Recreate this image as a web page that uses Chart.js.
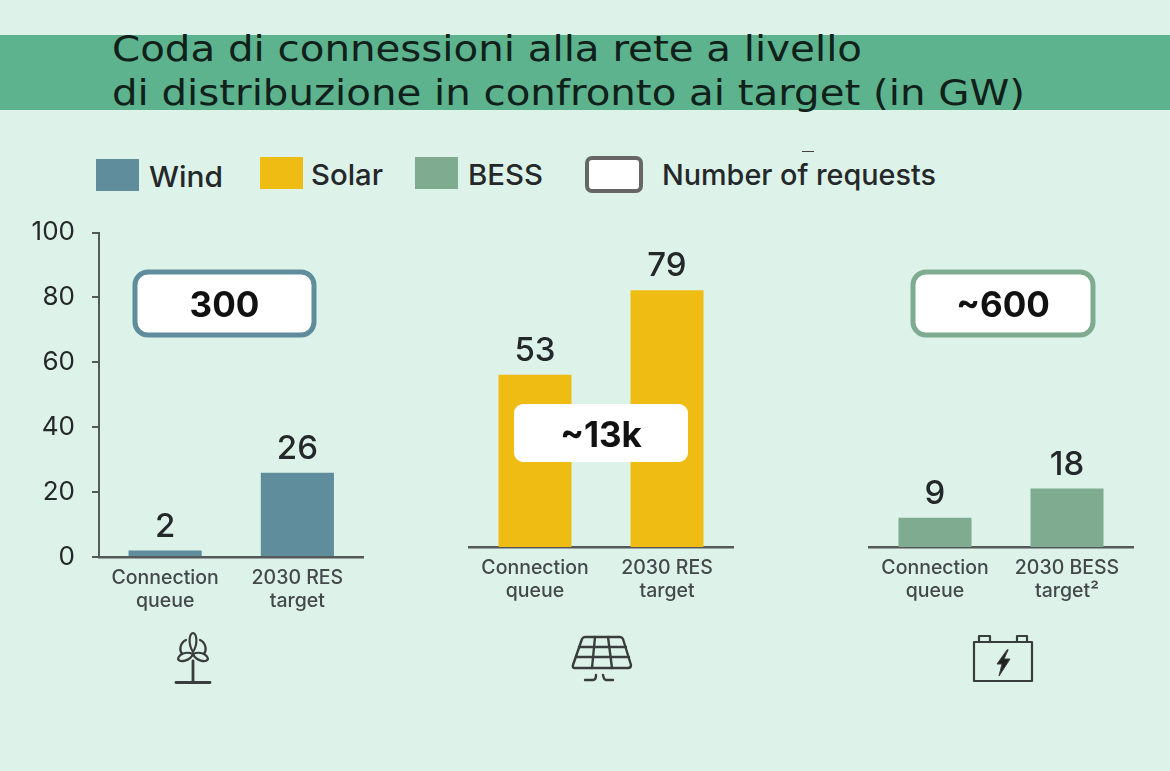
<!DOCTYPE html>
<html lang="it">
<head>
<meta charset="utf-8">
<title>Coda di connessioni alla rete</title>
<script src="https://cdn.jsdelivr.net/npm/chart.js@4/dist/chart.umd.js"></script>
<style>
  html, body { margin: 0; padding: 0; background: #ddf3e9; }
  #page { position: relative; width: 1170px; height: 771px; overflow: hidden; background: #ddf3e9; font-family: Inter, sans-serif; }
  #band { position: absolute; left: 0; top: 35px; width: 1170px; height: 75px; background: #5db38d; }
  .title { position: absolute; left: 112px; font: 36px "DejaVu Sans", sans-serif; color: #10201a; white-space: nowrap; transform-origin: 0 0; line-height: 40px; }
  canvas { position: absolute; }
  .swatch { position: absolute; width: 43px; height: 32px; }
  .legend-text { position: absolute; font-size: 29px; font-weight: 500; line-height: 36px; color: #25282a; white-space: nowrap; transform-origin: 0 50%; }
  #requests-key { position: absolute; left: 585px; top: 156px; width: 50px; height: 29px; border: 4px solid #666; border-radius: 7px; background: #fff; }
  #speck { position: absolute; left: 802px; top: 151px; width: 12px; height: 1px; background: #444; }
  svg { position: absolute; fill: none; stroke: #3a3d3d; stroke-linecap: round; stroke-linejoin: round; }
</style>
</head>
<body>
<div id="page">
  <div id="band"></div>
  <div class="title" id="t1" style="top:29px">Coda di connessioni alla rete a livello</div>
  <div class="title" id="t2" style="top:73px">di distribuzione in confronto ai target (in GW)</div>

  <div class="swatch" style="left:96px;top:159px;background:#5f8d9c"></div>
  <div class="legend-text" data-w="74" style="left:149px;top:159px">Wind</div>
  <div class="swatch" style="left:260px;top:157px;background:#eebc12"></div>
  <div class="legend-text" data-w="72" style="left:311px;top:157px">Solar</div>
  <div class="swatch" style="left:415px;top:157px;background:#7fab91"></div>
  <div class="legend-text" data-w="75" style="left:468px;top:157px">BESS</div>
  <div id="requests-key"></div>
  <div id="speck"></div>
  <div class="legend-text" data-w="274" style="left:662px;top:157px">Number of requests</div>

  <canvas id="wind" width="380" height="420" style="left:0;top:200px"></canvas>
  <canvas id="solar" width="290" height="420" style="left:460px;top:190px"></canvas>
  <canvas id="bess" width="290" height="420" style="left:860px;top:190px"></canvas>

  <!-- wind turbine -->
  <svg style="left:170px;top:628px" width="46" height="60" viewBox="0 0 46 60" stroke-width="2.200">
    <path d="M6 54.500H40" stroke-width="2.800"/>
    <path d="M23 33V54" stroke-width="2.800"/>
    <path d="M23 24C18 16 19 6 23 5C27 6 28 16 23 24Z"/>
    <path d="M23 26C16 23 9 26 8 31C10 35 20 33 23 26Z"/>
    <path d="M23 26C30 23 37 26 38 31C36 35 26 33 23 26Z"/>
    <path d="M16 12C10 15 9 22 12 26M30 12C36 15 37 22 34 26"/>
  </svg>
  <!-- solar panel -->
  <svg style="left:568px;top:632px" width="68" height="52" viewBox="0 0 68 52" stroke-width="2.400">
    <path d="M17 5H52Q54 5 55 7L63 33Q63 36 60 36H7Q4 36 5 33L14 7Q15 5 17 5Z"/>
    <path d="M27 5L24 36M40 5L44 36"/>
    <path d="M11 15H58M8 25H61"/>
    <path d="M17 48H25Q28 48 28 43M45 48H38Q36 48 35 43"/>
  </svg>
  <!-- battery -->
  <svg style="left:970px;top:632px" width="66" height="52" viewBox="0 0 66 52" stroke-width="2.200">
    <rect x="4" y="10" width="58" height="39"/>
    <path d="M9 10V4H20V10M47 10V4H57V10"/>
    <path d="M37 18L27 32H32L29 44L40 27H34L38 18Z" fill="#222" stroke-width="1"/>
  </svg>
</div>

<script>
// Values in GW and request counts for the three technologies
const axisTicks = [0, 20, 40, 60, 80, 100];
const queueLabel = ["Connection", "queue"];
const resLabel = ["2030 RES", "target"];
const bessLabel = ["2030 BESS", "target\u00B2"];
const windValues = [2, 26];
const solarValues = [53, 79];
const bessValues = [9, 18];
const windRequests = "300";
const solarRequests = "~13k";
const bessRequests = "~600";

const WIND = "#5f8d9c", SOLAR = "#eebc12", BESS = "#7fab91", AXIS = "#55595a", INK = "#25282a";
const FONT = "Inter, sans-serif";

// Fits the title lines and legend entries to their printed widths
[["t1", 750], ["t2", 913]].forEach(([id, w]) => {
  const el = document.getElementById(id);
  el.style.transform = "scaleX(" + (w / el.getBoundingClientRect().width) + ")";
});
document.querySelectorAll(".legend-text").forEach(el => {
  el.style.transform = "scaleX(" + (Number(el.dataset.w) / el.getBoundingClientRect().width) + ")";
});

function roundedBox(ctx, x, y, w, h, r, fill, stroke, lw) {
  ctx.beginPath();
  ctx.roundRect(x, y, w, h, r);
  ctx.fillStyle = fill;
  ctx.fill();
  if (stroke) { ctx.lineWidth = lw; ctx.strokeStyle = stroke; ctx.stroke(); }
}

// Value labels above the bars and the request-count callout
const annotate = {
  id: "annotate",
  afterDatasetsDraw(chart, args, opts) {
    const ctx = chart.ctx, meta = chart.getDatasetMeta(0), values = chart.data.datasets[0].data;
    ctx.save();
    ctx.textAlign = "center";
    ctx.textBaseline = "alphabetic";
    ctx.fillStyle = INK;
    ctx.font = "500 33px " + FONT;
    meta.data.forEach((bar, i) => ctx.fillText(String(values[i]), bar.x, bar.y - 14));
    const c = opts.callout;
    roundedBox(ctx, c.x, c.y, c.w, c.h, c.r, "#fff", c.stroke, 5);
    ctx.fillStyle = "#111";
    ctx.font = "700 35px " + FONT;
    ctx.textBaseline = "middle";
    ctx.fillText(c.text, c.x + c.w / 2, c.y + c.h / 2 + 3);
    ctx.restore();
  }
};

function panel(id, values, labels, color, pad, showAxis, callout) {
  return new Chart(document.getElementById(id), {
    type: "bar",
    data: {
      labels: labels,
      datasets: [{ data: values, backgroundColor: color, barPercentage: 73 / 132, categoryPercentage: 1 }]
    },
    plugins: [annotate],
    options: {
      responsive: false,
      animation: false,
      layout: { padding: pad },
      plugins: { legend: { display: false }, tooltip: { enabled: false }, annotate: { callout: callout } },
      scales: {
        x: {
          grid: { display: false },
          border: { color: AXIS, width: 2.5 },
          afterFit: s => { s.height = 63; },
          ticks: { color: "#44484b", font: { family: FONT, size: 19.5, weight: "500", lineHeight: 1.2 }, padding: 1, maxRotation: 0, autoSkip: false }
        },
        y: {
          display: showAxis,
          min: 0,
          max: 100,
          afterFit: s => { s.width = showAxis ? 99 : 0; },
          afterBuildTicks: s => { s.ticks = axisTicks.map(v => ({ value: v })); },
          grid: { drawOnChartArea: false, drawTicks: true, tickLength: 7, color: AXIS, lineWidth: 2 },
          border: { color: AXIS, width: 2 },
          ticks: { color: INK, font: { family: FONT, size: 26 }, padding: 17 }
        }
      }
    }
  });
}

// All three panels share 3.25 px per GW; the latter two sit 10 px higher
panel("wind", windValues, [queueLabel, resLabel], WIND,
  { top: 32, right: 16.500, bottom: 0, left: 0 }, true,
  { x: 135, y: 72, w: 179, h: 63, r: 13, stroke: WIND, text: windRequests });
panel("solar", solarValues, [queueLabel, resLabel], SOLAR,
  { top: 32, right: 17, bottom: 0, left: 9 }, false,
  { x: 54, y: 214, w: 174, h: 58, r: 9, stroke: null, text: solarRequests });
panel("bess", bessValues, [queueLabel, bessLabel], BESS,
  { top: 32, right: 17, bottom: 0, left: 9 }, false,
  { x: 53, y: 82, w: 180, h: 63, r: 13, stroke: BESS, text: bessRequests });
</script>
</body>
</html>
